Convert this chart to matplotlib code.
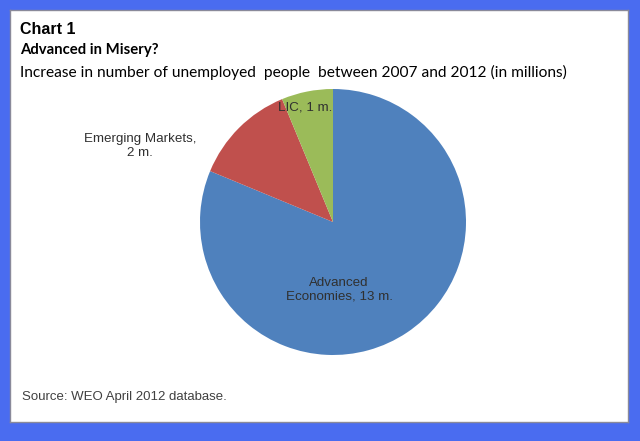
import matplotlib
matplotlib.use("Agg")
import matplotlib.pyplot as plt

categories = ["Advanced\nEconomies, 13 m.", "Emerging Markets,\n2 m.", "LIC, 1 m."]
values = [13, 2, 1]
colors = ["#4f81bd", "#c0504d", "#9bbb59"]

W, H = 640, 441
fig = plt.figure(figsize=(W / 100, H / 100), dpi=100)
fig.patch.set_facecolor("#4a6cf0")

def fx(x):
    return x / W

def fy(y):
    return 1 - y / H

# white inner panel
bg = fig.add_axes([fx(10), fy(422), (628 - 10) / W, (422 - 10) / H], zorder=-1)
bg.set_facecolor("white")
bg.set_xticks([])
bg.set_yticks([])
for s in bg.spines.values():
    s.set_color("#8a8a9a")
    s.set_linewidth(1.0)

# pie
cx, cy, r = 333, 222, 133
ax = fig.add_axes([fx(cx - r), fy(cy + r), 2 * r / W, 2 * r / H], zorder=1)
ax.pie(values, colors=colors, startangle=90, counterclock=False,
       wedgeprops=dict(linewidth=0))
ax.set_aspect("equal")
ax.set_xlim(-1, 1)
ax.set_ylim(-1, 1)
ax.axis("off")

# labels
lab_font = dict(family="Liberation Sans", fontsize=9.6, color="#303030", linespacing=1.2, zorder=5)
fig.text(fx(339), fy(290), categories[0], ha="center", va="center", **lab_font)
fig.text(fx(140), fy(146), categories[1], ha="center", va="center", **lab_font)
fig.text(fx(305), fy(107), categories[2], ha="center", va="center", **lab_font)

# titles
fig.text(fx(20), fy(29), "Chart 1", ha="left", va="center",
         family="Liberation Sans", fontweight="bold", fontsize=11.5, color="black")
fig.text(fx(20), fy(50), "Advanced in Misery?", ha="left", va="center",
         family="Lato", fontweight="bold", fontsize=10.7, color="black")
fig.text(fx(20), fy(72), "Increase in number of unemployed  people  between 2007 and 2012 (in millions)",
         ha="left", va="center", family="Lato", fontsize=11.2, color="black")

fig.text(fx(22), fy(397), "Source: WEO April 2012 database.", ha="left", va="center",
         family="Liberation Sans", fontsize=9.5, color="#404040")

fig.savefig("out.png", dpi=100, facecolor=fig.get_facecolor())
